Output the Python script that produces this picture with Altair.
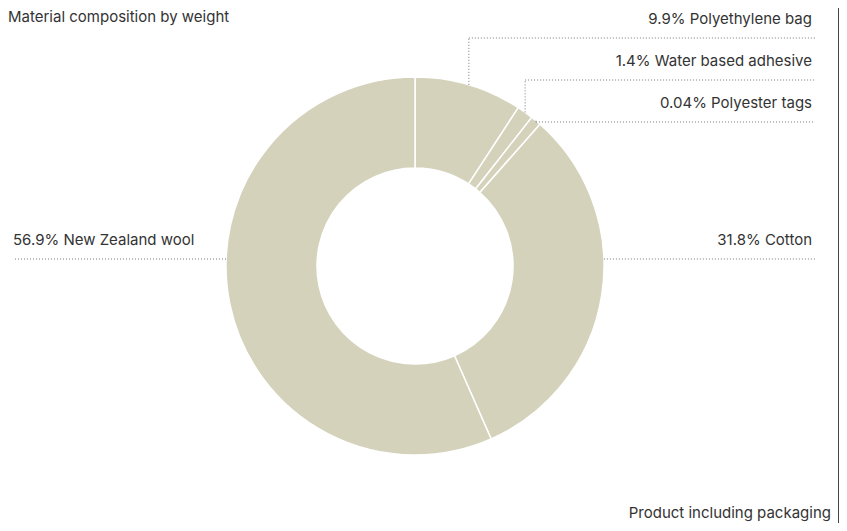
import math
import altair as alt
import pandas as pd

# ---- data ----
materials = ["Polyethylene bag", "Water based adhesive", "Polyester tags", "Cotton", "New Zealand wool"]
label_pct = ["9.9%", "1.4%", "0.04%", "31.8%", "56.9%"]
drawn_share = [9.2, 1.4, 0.9, 31.9, 56.6]  # arc sizes as drawn (tiny slices enlarged)
title_text = "Material composition by weight"
footer_text = "Product including packaging"

# ---- layout ----
W, H = 831, 515
CX, CY = 407, 258
R_OUT, R_IN = 189, 98
FONT = "Inter"
FS = 15
TEXT_COLOR = "#333333"
FILL = "#d4d2bb"
LEADER = "#777777"
line_y = [30, 72, 114, 251, 251]
RIGHT_END = 807
TEXT_RIGHT = 804
LEFT_END = 7
TEXT_LEFT = 5

arcs = pd.DataFrame({"material": materials, "share": drawn_share, "order": list(range(len(materials)))})

# leader geometry derived from the arcs
total = sum(drawn_share)
segs, labels = [], []
cum = 0.0
for i, (m, s) in enumerate(zip(materials, drawn_share)):
    a0 = cum / total * 2 * math.pi
    cum += s
    a1 = cum / total * 2 * math.pi
    mid = (a0 + a1) / 2
    px = CX + R_OUT * math.sin(mid)
    py = CY - R_OUT * math.cos(mid)
    ly = line_y[i]
    txt = f"{label_pct[i]} {m}"
    if i < 3:
        segs.append({"x": px, "y": py, "x2": px, "y2": ly})
        segs.append({"x": px, "x2": RIGHT_END, "y": ly, "y2": ly})
        labels.append({"x": TEXT_RIGHT, "y": ly - 14.5, "t": txt, "side": "r"})
    else:
        dx = math.sqrt(R_OUT ** 2 - (ly - CY) ** 2)
        if math.sin(mid) > 0:
            segs.append({"x": CX + dx, "x2": RIGHT_END, "y": ly, "y2": ly})
            labels.append({"x": TEXT_RIGHT, "y": ly - 14.5, "t": txt, "side": "r"})
        else:
            segs.append({"x": LEFT_END, "x2": CX - dx, "y": ly, "y2": ly})
            labels.append({"x": TEXT_LEFT, "y": ly - 14.5, "t": txt, "side": "l"})

segs = pd.DataFrame(segs)
labels = pd.DataFrame(labels)

donut = alt.Chart(arcs).mark_arc(
    outerRadius=R_OUT, innerRadius=R_IN, fill=FILL, stroke="white", strokeWidth=1.5
).encode(
    theta=alt.Theta("share:Q", stack=True),
    order=alt.Order("order:Q"),
    x=alt.value(CX),
    y=alt.value(CY),
)

leaders = alt.Chart(segs).mark_rule(color=LEADER, strokeWidth=1, strokeDash=[1, 2]).encode(
    x=alt.X("x:Q", scale=None, axis=None),
    x2="x2:Q",
    y=alt.Y("y:Q", scale=None, axis=None),
    y2="y2:Q",
)

right_labels = alt.Chart(labels[labels.side == "r"]).mark_text(
    align="right", baseline="alphabetic", font=FONT, fontSize=FS, color=TEXT_COLOR
).encode(x=alt.X("x:Q", scale=None), y=alt.Y("y:Q", scale=None), text="t:N")

left_labels = alt.Chart(labels[labels.side == "l"]).mark_text(
    align="left", baseline="alphabetic", font=FONT, fontSize=FS, color=TEXT_COLOR
).encode(x=alt.X("x:Q", scale=None), y=alt.Y("y:Q", scale=None), text="t:N")

title = alt.Chart(pd.DataFrame({"t": [title_text]})).mark_text(
    align="left", baseline="top", font=FONT, fontSize=FS, color=TEXT_COLOR
).encode(x=alt.value(0), y=alt.value(2), text="t:N")

footer = alt.Chart(pd.DataFrame({"t": [footer_text]})).mark_text(
    align="right", baseline="alphabetic", font=FONT, fontSize=FS, color=TEXT_COLOR
).encode(x=alt.value(823), y=alt.value(510), text="t:N")

border = alt.Chart(pd.DataFrame({"t": [0]})).mark_rule(color="#444444", strokeWidth=1).encode(
    x=alt.value(830.5), y=alt.value(0), y2=alt.value(H)
)

chart = alt.layer(donut, leaders, right_labels, left_labels, title, footer, border).properties(
    width=W, height=H, padding=0, autosize=alt.AutoSizeParams(type="none"), background="white"
).configure_view(strokeWidth=0)

chart.save("out.html", embed_options={"renderer": "svg", "actions": False})
